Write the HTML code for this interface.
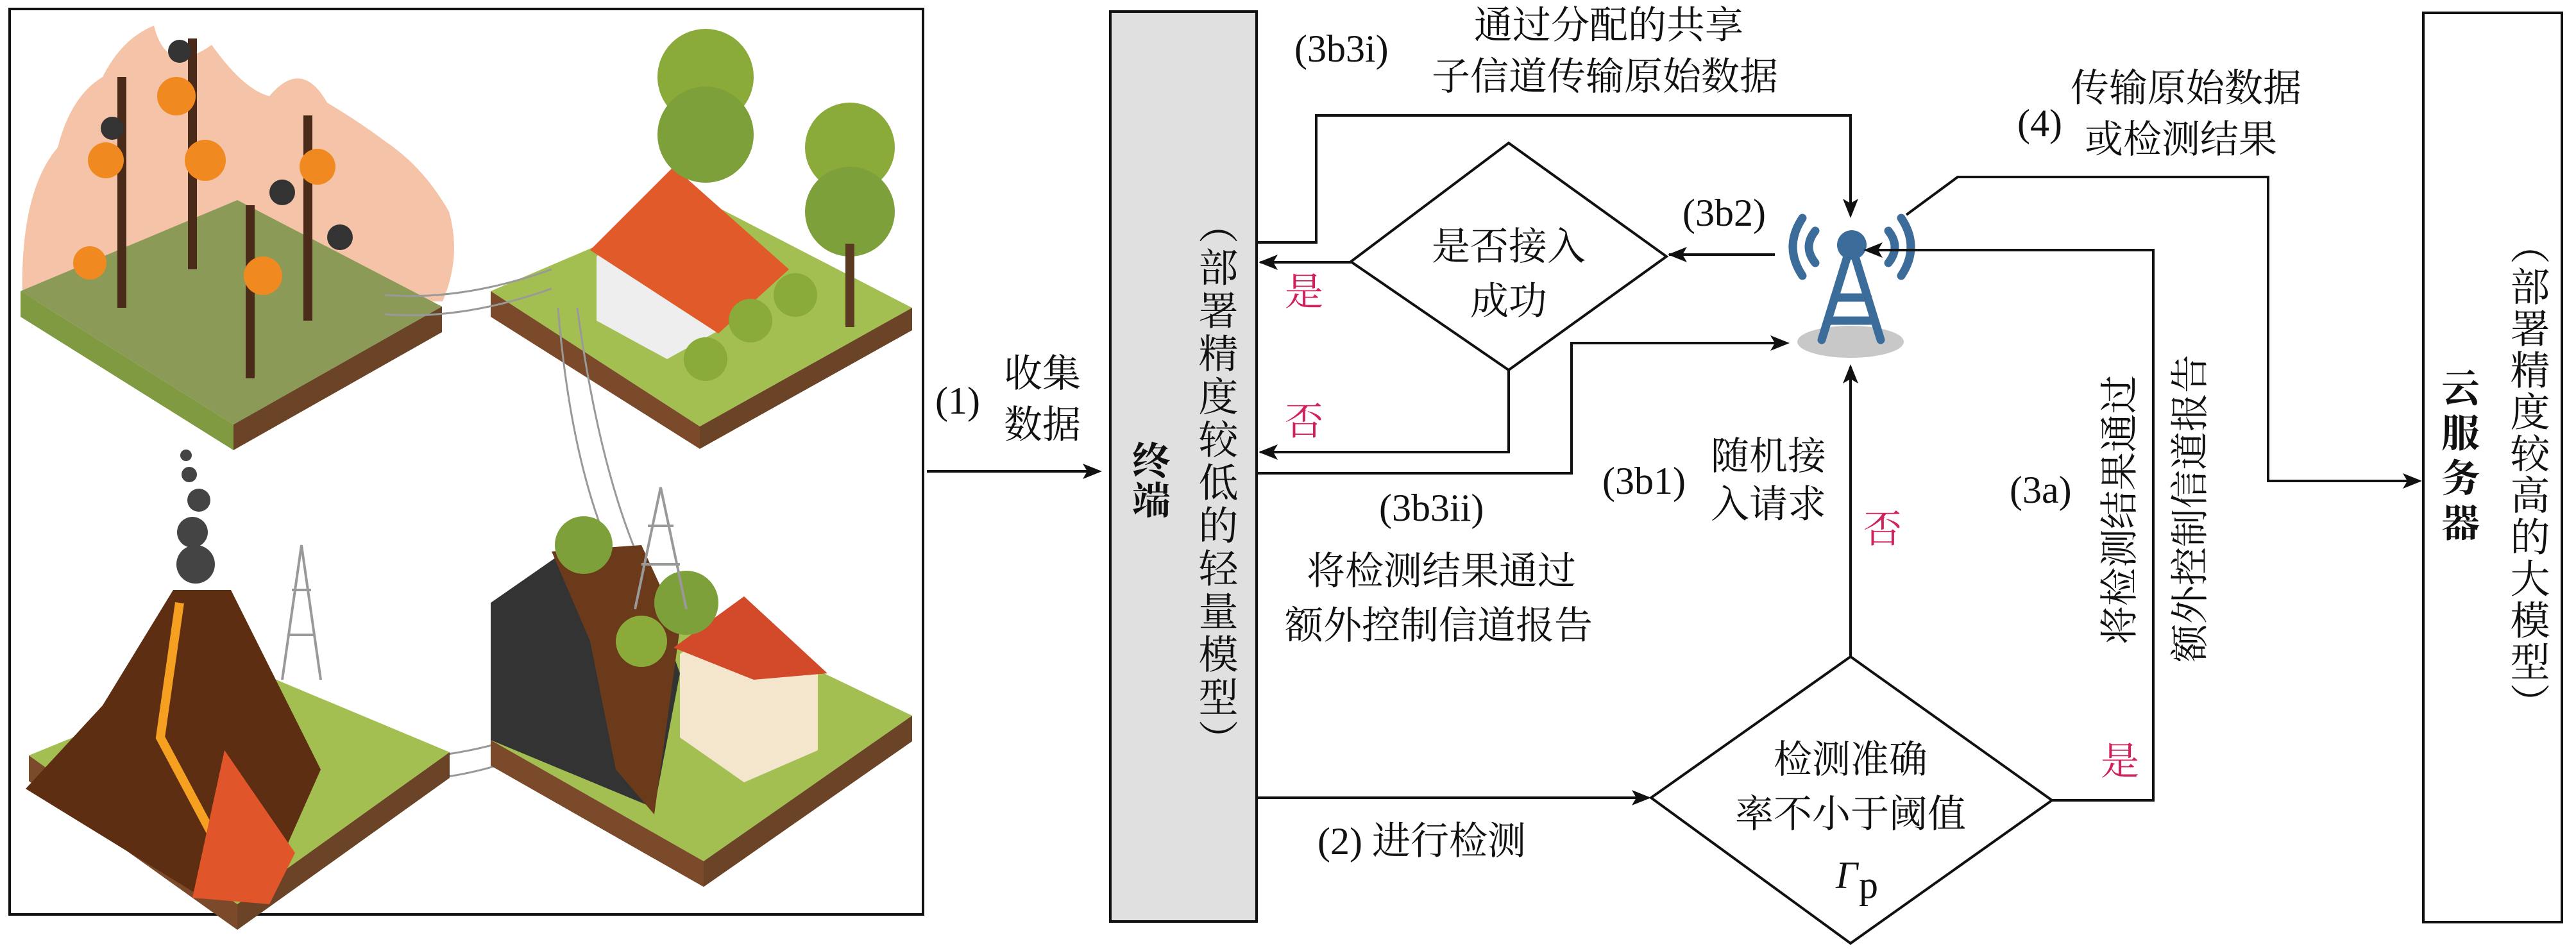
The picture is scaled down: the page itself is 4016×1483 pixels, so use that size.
<!DOCTYPE html>
<html><head><meta charset="utf-8"><style>
html,body{margin:0;padding:0;background:#fff}
svg{display:block}
text{font-family:"Liberation Serif","Noto Serif CJK SC","Noto Sans CJK SC",serif;font-size:60px;fill:#111}
.r{fill:#d0215a}
.v{position:absolute;writing-mode:vertical-rl;font-family:"Liberation Serif","Noto Serif CJK SC","Noto Sans CJK SC",serif;font-size:62px;line-height:70px;width:70px;color:#111;white-space:nowrap}
</style></head><body>
<div style="position:relative;width:4016px;height:1483px">
<svg width="4016" height="1483" viewBox="0 0 4016 1483" xmlns="http://www.w3.org/2000/svg" style="position:absolute;left:0;top:0">
<!-- left illustration box -->
<rect x="15" y="14" width="1424" height="1412" fill="#fff" stroke="#111" stroke-width="4"/>
<path d="M35 470 Q30 300 90 230 Q110 150 160 120 Q190 60 240 40 Q260 120 330 70 Q380 140 420 150 Q470 90 510 160 Q560 190 600 220 Q660 260 700 330 Q720 400 690 470 Z" fill="#f3b898" opacity="0.85"/>
<polygon points="32,454 370,312 689,478 364,662" fill="#8c9a58"/>
<polygon points="32,454 364,662 364,702 32,494" fill="#7f9a40"/>
<polygon points="364,662 689,478 689,518 364,702" fill="#6b4428"/>
<g stroke="#4a2a18" stroke-width="14">
<line x1="190" y1="120" x2="190" y2="480"/><line x1="300" y1="60" x2="300" y2="420"/><line x1="390" y1="320" x2="390" y2="590"/><line x1="480" y1="180" x2="480" y2="500"/>
</g>
<g fill="#f08a20"><circle cx="165" cy="250" r="28"/><circle cx="275" cy="150" r="30"/><circle cx="320" cy="250" r="32"/><circle cx="410" cy="430" r="30"/><circle cx="495" cy="260" r="28"/><circle cx="140" cy="410" r="26"/></g>
<g fill="#333"><circle cx="175" cy="200" r="18"/><circle cx="440" cy="300" r="20"/><circle cx="280" cy="80" r="18"/><circle cx="530" cy="370" r="20"/></g>
<polygon points="765,454 1097,312 1422,480 1091,665" fill="#a3bf52"/>
<polygon points="765,454 1091,665 1091,700 765,494" fill="#7a4a2a"/>
<polygon points="1091,665 1422,480 1422,515 1091,700" fill="#6b4428"/>
<polygon points="930,400 1040,290 1130,380 1130,510 1040,560 930,500" fill="#eeeeee"/>
<polygon points="920,390 1050,260 1230,420 1120,520" fill="#e05a2a"/>
<circle cx="1100" cy="120" r="75" fill="#8aaa3a"/><circle cx="1100" cy="210" r="75" fill="#7da03a"/>
<circle cx="1325" cy="230" r="70" fill="#8aaa3a"/><circle cx="1325" cy="330" r="70" fill="#7da03a"/>
<rect x="1318" y="380" width="14" height="130" fill="#5a3a20"/>
<circle cx="1100" cy="560" r="34" fill="#8aaa3a"/><circle cx="1170" cy="500" r="34" fill="#8aaa3a"/><circle cx="1240" cy="460" r="34" fill="#8aaa3a"/>
<g stroke="#999" stroke-width="3" fill="none">
<path d="M600 460 Q720 470 860 420"/><path d="M600 490 Q720 500 860 450"/>
<path d="M870 480 Q900 850 1040 1000"/><path d="M900 480 Q950 850 1070 1000"/>
<path d="M490 1180 Q700 1200 860 1130"/><path d="M490 1210 Q700 1240 860 1160"/>
</g>
<polygon points="45,1178 383,1040 701,1173 370,1410" fill="#a3bf52"/>
<polygon points="45,1178 370,1410 370,1450 45,1218" fill="#7a4a2a"/>
<polygon points="370,1410 701,1173 701,1213 370,1450" fill="#6b4428"/>
<polygon points="40,1230 160,1100 270,920 360,920 500,1200 420,1380 300,1390" fill="#5e2e12"/>
<path d="M280 940 L250 1150 L330 1300 L370 1400" stroke="#f5a020" stroke-width="14" fill="none"/>
<polygon points="350,1170 460,1330 420,1410 300,1400" fill="#e0552a"/>
<g fill="#444"><circle cx="305" cy="880" r="30"/><circle cx="300" cy="830" r="24"/><circle cx="310" cy="780" r="18"/><circle cx="295" cy="740" r="12"/><circle cx="290" cy="710" r="9"/></g>
<g stroke="#999" stroke-width="4" fill="none"><path d="M440 1060 L470 850 L500 1060 M450 990 L490 990 M455 920 L485 920"/></g>
<polygon points="765,1154 1097,960 1422,1116 1097,1343" fill="#a3bf52"/>
<polygon points="765,1154 1097,1343 1097,1383 765,1194" fill="#7a4a2a"/>
<polygon points="1097,1343 1422,1116 1422,1156 1097,1383" fill="#6b4428"/>
<polygon points="765,940 880,860 1000,880 1060,1050 1020,1260 765,1154" fill="#333"/>
<polygon points="860,860 1000,850 1060,980 1020,1270 960,1200 920,1000" fill="#6a3a1a"/>
<polygon points="1060,1020 1160,950 1275,1040 1275,1170 1160,1220 1060,1150" fill="#f3e6cc"/>
<polygon points="1050,1010 1160,930 1290,1050 1175,1060" fill="#d24a2a"/>
<circle cx="910" cy="850" r="45" fill="#7da03a"/><circle cx="1070" cy="940" r="50" fill="#7da03a"/><circle cx="1000" cy="1000" r="40" fill="#8aaa3a"/>
<g stroke="#999" stroke-width="4" fill="none"><path d="M990 950 L1030 760 L1070 950 M1000 880 L1060 880 M1010 820 L1050 820"/></g>

<!-- arrow (1) -->
<line x1="1445" y1="735" x2="1712" y2="735" stroke="#111" stroke-width="4"/>
<polygon points="1718,735 1688,723 1695,735 1688,747" fill="#111"/>
<text x="1458" y="645" font-size="68">(1)</text>
<text x="1565" y="603" font-size="64">收集</text>
<text x="1565" y="683" font-size="64">数据</text>

<rect x="1731" y="18" width="228" height="1419" fill="#e0e0e0" stroke="#111" stroke-width="4"/>
<g font-size="60" text-anchor="middle">
<text x="1795" y="740" font-weight="bold">终</text>
<text x="1795" y="802" font-weight="bold">端</text>
</g>

<rect x="3778" y="20" width="216" height="1418" fill="#fff" stroke="#111" stroke-width="4"/>
<g font-size="62" text-anchor="middle" font-weight="bold">
<text x="3836" y="627">云</text><text x="3836" y="697">服</text><text x="3836" y="767">务</text><text x="3836" y="837">器</text>
</g>

<ellipse cx="2885" cy="533" rx="83" ry="25" fill="#c8c8c8"/>
<g stroke="#3b6c9a" stroke-width="13" fill="none" stroke-linecap="round">
<line x1="2880" y1="400" x2="2840" y2="530"/><line x1="2892" y1="400" x2="2932" y2="530"/>
<line x1="2860" y1="464" x2="2912" y2="464"/><line x1="2850" y1="500" x2="2922" y2="500"/>
<path d="M2830 360 Q2810 385 2830 410"/><path d="M2810 340 Q2780 385 2810 430"/>
<path d="M2944 360 Q2964 385 2944 410"/><path d="M2964 340 Q2994 385 2964 430"/>
</g>
<circle cx="2887" cy="382" r="23" fill="#3b6c9a"/>

<g stroke="#111" stroke-width="4" fill="none">
<polygon points="2106,408 2352,223 2598,400 2352,577"/>
<polygon points="2574,1244 2885,1024 3199,1248 2885,1471"/>
<polyline points="1960,378 2052,378 2052,180 2885,180 2885,335"/>
<line x1="2106" y1="409" x2="1965" y2="409"/>
<polyline points="2352,577 2352,705 1965,705"/>
<polyline points="1960,738 2450,738 2450,535 2785,535"/>
<line x1="2767" y1="397" x2="2602" y2="397"/>
<line x1="2885" y1="1024" x2="2885" y2="572"/>
<polyline points="3199,1248 3357,1248 3357,390 2910,390"/>
<polyline points="2972,335 3052,276 3536,276 3536,750 3772,750"/>
<line x1="1960" y1="1244" x2="2570" y2="1244"/>
</g>
<g fill="#111">
<polygon points="2885,340 2873,310 2885,317 2897,310"/>
<polygon points="1962,409 1992,397 1985,409 1992,421"/>
<polygon points="1962,705 1992,693 1985,705 1992,717"/>
<polygon points="2790,535 2760,523 2767,535 2760,547"/>
<polygon points="2600,397 2630,385 2623,397 2630,409"/>
<polygon points="2885,568 2873,598 2885,591 2897,598"/>
<polygon points="2905,390 2935,378 2928,390 2935,402"/>
<polygon points="3776,750 3746,738 3753,750 3746,762"/>
<polygon points="2574,1244 2544,1232 2551,1244 2544,1256"/>
</g>

<text x="2018" y="96">(3b3i)</text>
<text x="2298" y="60">通过分配的共享</text>
<text x="2232" y="140">子信道传输原始数据</text>
<text x="3145" y="212">(4)</text>
<text x="3228" y="158">传输原始数据</text>
<text x="3250" y="238">或检测结果</text>
<text x="2623" y="352">(3b2)</text>
<text x="2352" y="405" text-anchor="middle">是否接入</text>
<text x="2352" y="490" text-anchor="middle">成功</text>
<text x="2003" y="476" class="r">是</text>
<text x="2003" y="678" class="r">否</text>
<text x="2498" y="770">(3b1)</text>
<text x="2667" y="732">随机接</text>
<text x="2667" y="807">入请求</text>
<text x="2905" y="846" class="r">否</text>
<text x="2150" y="812">(3b3ii)</text>
<text x="2037" y="911">将检测结果通过</text>
<text x="2003" y="996">额外控制信道报告</text>
<text x="3133" y="784">(3a)</text>
<text x="3275" y="1208" class="r">是</text>
<text transform="translate(3325 1005) rotate(-90)">将检测结果通过</text>
<text transform="translate(3435 1033) rotate(-90)">额外控制信道报告</text>
<text x="2054" y="1332">(2) 进行检测</text>
<text x="2885" y="1205" text-anchor="middle">检测准确</text>
<text x="2885" y="1290" text-anchor="middle">率不小于阈值</text>
<text x="2862" y="1385" font-style="italic">Γ</text><text x="2898" y="1400" font-size="36">p</text>
</svg>
<div class="v" style="left:1858px;top:318px;letter-spacing:5px">（部署精度较低的轻量模型）</div>
<div class="v" style="left:3903px;top:350px;letter-spacing:3px">（部署精度较高的大模型）</div>
</div>
</body></html>
